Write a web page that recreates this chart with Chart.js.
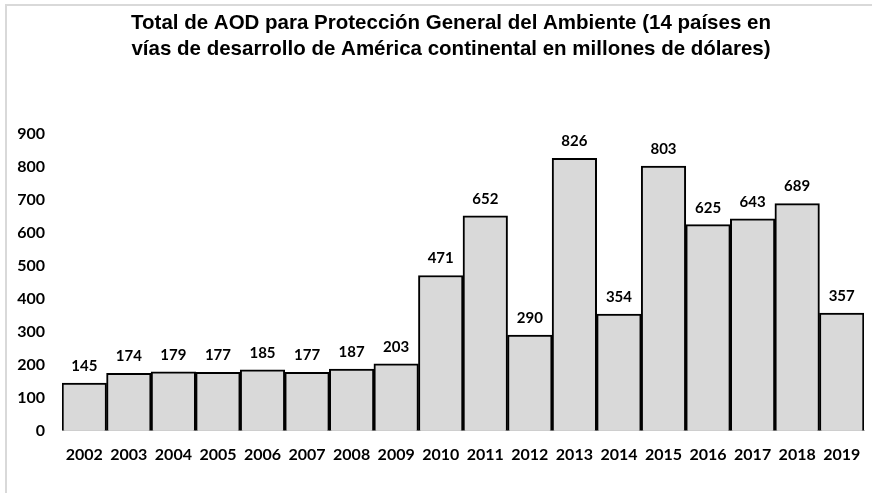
<!DOCTYPE html>
<html>
<head>
<meta charset="utf-8">
<script src="https://cdn.jsdelivr.net/npm/chart.js@4"></script>
<style>
  html, body { margin: 0; padding: 0; background: #fff; }
  #wrap { position: relative; width: 872px; height: 493px; overflow: hidden; }
  #frame { position: absolute; left: 5px; top: 4px; width: 900px; height: 520px;
           border-left: 2px solid #d9d9d9; border-top: 2px solid #d9d9d9; }
  canvas { position: absolute; left: 0; top: 0; }
</style>
</head>
<body>
<div id="wrap">
  <div id="frame"></div>
  <canvas id="barChart" width="872" height="493"></canvas>
</div>
<script>
// Yearly totals, millions of dollars
const years = ['2002','2003','2004','2005','2006','2007','2008','2009','2010',
               '2011','2012','2013','2014','2015','2016','2017','2018','2019'];
const totals = [145, 174, 179, 177, 185, 177, 187, 203, 471,
                652, 290, 826, 354, 803, 625, 643, 689, 357];
const titleLines = [
  'Total de AOD para Protección General del Ambiente (14 países en',
  'vías de desarrollo de América continental en millones de dólares)'
];

const tickFont = {family: 'Lato', size: 16, weight: 'bold'};

// two-line heading, centred over the whole frame rather than the plot
const heading = {
  id: 'heading',
  afterDraw(chart){
    const ctx = chart.ctx;
    ctx.save();
    ctx.font = 'bold 20.5px "Liberation Sans", Arial, sans-serif';
    ctx.fillStyle = '#000';
    ctx.textAlign = 'center';
    ctx.textBaseline = 'middle';
    titleLines.forEach((line, i) => ctx.fillText(line, 451, 23 + i * 26));
    ctx.restore();
  }
};

// value printed above each bar
const barValues = {
  id: 'barValues',
  afterDatasetsDraw(chart){
    const ctx = chart.ctx;
    ctx.save();
    ctx.font = 'bold 15px Lato';
    ctx.fillStyle = '#000';
    ctx.textAlign = 'center';
    ctx.textBaseline = 'middle';
    chart.getDatasetMeta(0).data.forEach((bar, i) => {
      ctx.fillText(totals[i], bar.x, bar.y - 17);
    });
    ctx.restore();
  }
};

const ctx = document.getElementById('barChart').getContext('2d');
new Chart(ctx, {
  type: 'bar',
  data: {
    labels: years,
    datasets: [{
      data: totals,
      backgroundColor: '#d9d9d9',
      borderColor: '#000',
      borderWidth: 2,
      barPercentage: 1,
      categoryPercentage: 1
    }]
  },
  options: {
    responsive: false,
    animation: false,
    layout: {padding: {left: 0, right: 8, top: 134, bottom: 23}},
    plugins: {
      legend: {display: false},
      tooltip: {enabled: false},
      title: {display: false}
    },
    scales: {
      x: {
        grid: {display: false},
        border: {color: '#bfbfbf', width: 1},
        ticks: {color: '#000', font: tickFont, padding: 6, maxRotation: 0}
      },
      y: {
        min: 0, max: 900,
        grid: {display: false},
        border: {display: false},
        ticks: {stepSize: 100, color: '#000', font: tickFont, padding: 9},
        afterFit(scale){ scale.width = 62; }
      }
    }
  },
  plugins: [barValues, heading]
});
</script>
</body>
</html>
